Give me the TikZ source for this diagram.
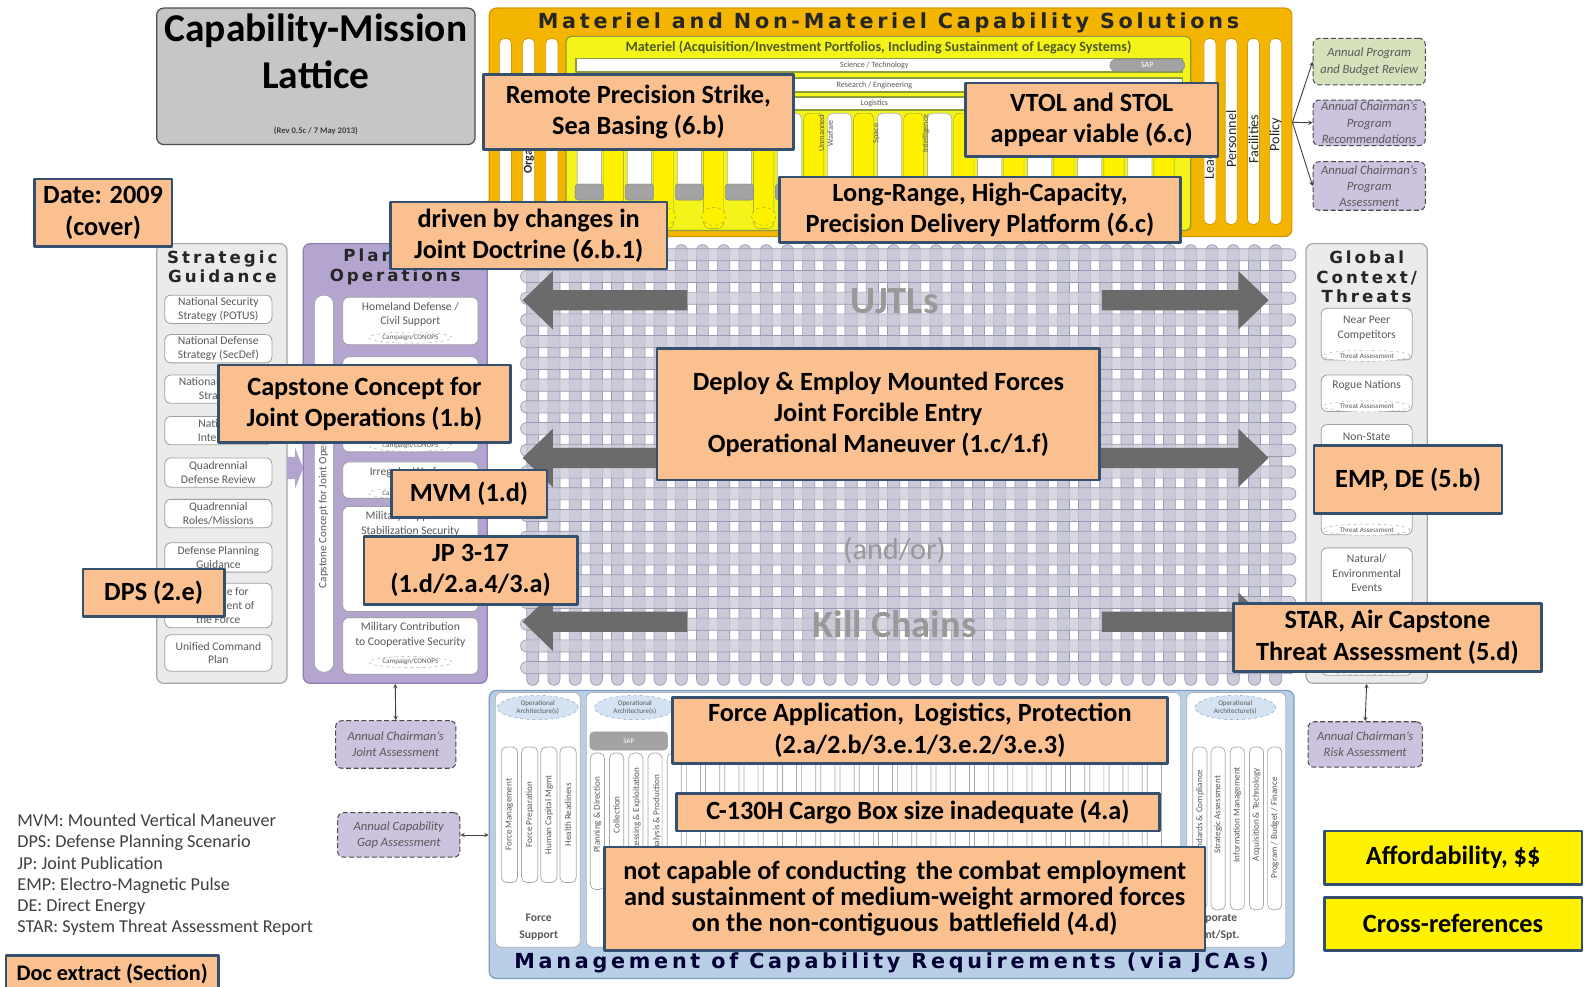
\documentclass[tikz,border=0pt]{standalone}
\usepackage{fontspec}
\setmainfont{Carlito}
\newfontfamily\hdfont[LetterSpace=18]{DejaVu Sans}
\usepackage{xcolor}
\usepackage{tikz}
\usetikzlibrary{arrows.meta,shapes.geometric}

\definecolor{callfill}{HTML}{FAC090}
\definecolor{callline}{HTML}{35506E}
\definecolor{goldfill}{HTML}{F3B500}
\definecolor{goldline}{HTML}{D39A00}
\definecolor{matyellow}{HTML}{F4F41A}
\definecolor{matolive}{HTML}{8E9B3C}
\definecolor{matdark}{HTML}{4F5A1E}
\definecolor{panelgray}{HTML}{EBEBEB}
\definecolor{panelline}{HTML}{A6A6A6}
\definecolor{planfill}{HTML}{B3A5D0}
\definecolor{planline}{HTML}{8C7BB5}
\definecolor{latfill}{HTML}{CACAD9}
\definecolor{latline}{HTML}{9A9AB2}
\definecolor{jcafill}{HTML}{B9CFE8}
\definecolor{jcaline}{HTML}{7E9CC3}
\definecolor{bigarrow}{HTML}{6B6B6B}
\definecolor{revgreen}{HTML}{D5E2BC}
\definecolor{revpurple}{HTML}{CCC3DE}
\definecolor{smalltxt}{HTML}{595959}
\definecolor{headtxt}{HTML}{262626}
\definecolor{sapgray}{HTML}{A3A3A3}

\tikzset{
  callout/.style={draw=callline, line width=2.6pt, fill=callfill, inner sep=0pt,
    align=center, font=\bfseries\fontsize{26}{31}\selectfont},
  ybox/.style={callout, fill=yellow},
  panel/.style={rounded corners=7pt, line width=1.2pt, inner sep=0pt},
  sbox/.style={draw=gray!75, fill=white, rounded corners=6pt, line width=0.8pt,
    inner sep=0pt},
  stxt/.style={align=center, inner sep=0pt, text=smalltxt,
    font=\fontsize{11.5}{14.5}\selectfont},
  oval/.style={ellipse, draw=gray!70, dashed, fill=white, inner sep=0pt,
    minimum width=82, minimum height=11, text=smalltxt, font=\fontsize{7}{8}\selectfont},
  archoval/.style={ellipse, draw=jcaline, dashed, fill=jcafill!60, inner sep=0pt,
    minimum width=80, minimum height=24, align=center, text=smalltxt,
    font=\fontsize{7}{8}\selectfont},
  review/.style={draw=gray!60!black, dashed, dash pattern=on 5pt off 2.5pt,
    rounded corners=6pt, line width=1pt, inner sep=0pt, align=center,
    text=smalltxt, font=\itshape\fontsize{12.5}{16}\selectfont},
  pill/.style={draw=gray!70, fill=white, rounded corners=5pt, line width=0.7pt},
  bar/.style={draw=latline, fill=latfill, line width=0.7pt, rounded corners=6pt},
  head/.style={font=\hdfont\bfseries\fontsize{16.5}{19.5}\selectfont,
    text=headtxt, align=center, inner sep=0pt},
  rotlab/.style={rotate=90, inner sep=0pt, text=smalltxt, font=\fontsize{9}{10}\selectfont},
  lattxt/.style={text=gray!80, font=\bfseries\fontsize{38}{40}\selectfont},
  link/.style={draw=black!75, line width=0.9pt},
}

\begin{document}
\begin{tikzpicture}[x=1pt, y=-1pt, >=stealth, line join=round]
\useasboundingbox (0,0) rectangle (1568,976);
\fill[white] (0,0) rectangle (1568,976);

%% lattice of UJTLs and kill chains
\foreach \i in {0,...,35}
  \draw[bar] ({527+21*\i-6},242) rectangle ({527+21*\i+6},678);
\foreach \j in {0,...,19}
  \draw[bar, fill opacity=0.75] (515,{252+21.5*\j-6}) rectangle (1282,{252+21.5*\j+6});
\foreach \y/\l/\r in {297/680/1090, 453/650/1088, 615/680/1090} {
  \fill[bigarrow] ({\l},{\y-10}) -- (547,{\y-10}) -- (547,{\y-29}) -- (517,\y)
    -- (547,{\y+29}) -- (547,{\y+10}) -- ({\l},{\y+10}) -- cycle;
  \fill[bigarrow] ({\r},{\y-10}) -- (1225,{\y-10}) -- (1225,{\y-29}) -- (1255,\y)
    -- (1225,{\y+29}) -- (1225,{\y+10}) -- ({\r},{\y+10}) -- cycle;
}
\node[lattxt] (ujtl) at (885,298) {UJTLs};
\node[lattxt, font=\fontsize{30}{32}\selectfont] (andor) at (885,545) {(and/or)};
\node[lattxt] (kill) at (885,617) {Kill Chains};

%% title
\node[panel, draw=gray!60!black, fill=gray!45, minimum width=315, minimum height=135] (title) at (312.5,75.5) {};
\node[anchor=base, inner sep=0pt, font=\bfseries\fontsize{39}{48}\selectfont] (title1) at (312.5,41) {Capability-Mission};
\node[anchor=base, inner sep=0pt, font=\bfseries\fontsize{39}{48}\selectfont] (title2) at (312.5,88) {Lattice};
\node[inner sep=0pt, text=black!75, font=\bfseries\fontsize{8.5}{9}\selectfont] (rev) at (312.5,130) {(Rev 0.5c / 7 May 2013)};

%% materiel and non-materiel solutions
\node[panel, draw=goldline, fill=goldfill, minimum width=794, minimum height=226] (matpanel) at (881,121) {};
\node[head, font=\hdfont\bfseries\fontsize{20.5}{21}\selectfont] (mathead) at (879,23) {Materiel and Non-Materiel Capability Solutions};
\foreach \x in {500,523,546}
  \draw[pill, draw=goldline] ({\x-6},38) rectangle ({\x+6},228);
\node[rotlab, anchor=west, text=headtxt, font=\bfseries\fontsize{12}{13}\selectfont] (org) at (523,172) {Organization};
\foreach \x in {1197,1218,1240,1262}
  \draw[pill, draw=goldline] ({\x-6},38) rectangle ({\x+6},222);
\node[rotlab, anchor=west, text=headtxt, font=\fontsize{14}{15}\selectfont] (lead) at (1197,178) {Leadership};
\node[rotlab, anchor=west, text=headtxt, font=\fontsize{14}{15}\selectfont] (pers) at (1218,166) {Personnel};
\node[rotlab, anchor=west, text=headtxt, font=\fontsize{14}{15}\selectfont] (fac) at (1240,162) {Facilities};
\node[rotlab, anchor=west, text=headtxt, font=\fontsize{14}{15}\selectfont] (pol) at (1262,150) {Policy};

\node[panel, draw=matolive, fill=matyellow, rounded corners=5pt, minimum width=618, minimum height=192] (matport) at (869,132) {};
\node[inner sep=0pt, text=matdark, font=\bfseries\fontsize{14}{15}\selectfont] (mattitle) at (869,47) {Materiel (Acquisition/Investment Portfolios, Including Sustainment of Legacy Systems)};
\draw[draw=matolive, fill=white, line width=1.5pt] (570,58) rectangle (1170,71);
\draw[draw=matolive, fill=white, line width=1.5pt] (570,77) rectangle (1170,91);
\draw[draw=matolive, fill=white, line width=1.5pt] (570,96) rectangle (1170,109);
\node[inner sep=0pt, text=smalltxt, font=\fontsize{8}{9}\selectfont] (scitech) at (865,64.5) {Science / Technology};
\node[inner sep=0pt, text=smalltxt, font=\fontsize{8}{9}\selectfont] (reseng) at (865,84) {Research / Engineering};
\node[inner sep=0pt, text=smalltxt, font=\fontsize{8}{9}\selectfont] (logi) at (865,102.5) {Logistics};
\node[draw=gray, fill=sapgray, rounded corners=6pt, minimum width=74, minimum height=12, inner sep=0pt, text=white, font=\fontsize{8}{9}\selectfont] (sapsci) at (1135,64.5) {SAP};
\foreach \k in {0,...,11} {
  \draw[draw=matolive, fill=yellow, rounded corners=6pt] ({597+49.5*\k},112) rectangle ({617+49.5*\k},226);
  \draw[pill, draw=gray!60] ({571+49.5*\k},112) rectangle ({595+49.5*\k},192);
  \draw[draw=gray, fill=sapgray, rounded corners=3pt] ({569+49.5*\k},182) rectangle ({597+49.5*\k},198);
  \draw[draw=matolive, dashed, fill=yellow] ({607+49.5*\k},214) ellipse (12 and 9);
}
\node[rotlab, font=\fontsize{8}{9}\selectfont, align=center] (unman) at (817,132) {Unmanned\\Warfare};
\node[rotlab, font=\fontsize{8}{9}\selectfont] (space) at (867,132) {Space};
\node[rotlab, font=\fontsize{8}{9}\selectfont] (intel) at (916,132) {Intelligence};

%% assessments fed by the solutions
\node[review, fill=revgreen, minimum width=111, minimum height=46] (apbr) at (1354.5,61) {Annual Program\\and Budget Review};
\node[review, fill=revpurple, minimum width=111, minimum height=45] (acpr) at (1354.5,121.5) {Annual Chairman's\\Program\\Recommendations};
\node[review, fill=revpurple, minimum width=111, minimum height=48] (acpa) at (1354.5,184) {Annual Chairman's\\Program\\Assessment};
\draw[link, ->] (matpanel.east) -- (apbr.west);
\draw[link, ->] (matpanel.east) -- (acpr.west);
\draw[link, ->] (matpanel.east) -- (acpa.west);

%% strategic guidance
\node[panel, draw=panelline, fill=panelgray, minimum width=129, minimum height=435] (strat) at (219.5,458.5) {};
\node[head] (strathead) at (220,264) {Strategic\\Guidance};
\foreach \ya/\yb/\txt [count=\i] in {
    292/320/{National Security\\Strategy (POTUS)},
    331/359/{National Defense\\Strategy (SecDef)},
    371/399/{National Military\\Strategy},
    412/440/{National\\Interests},
    453/482/{Quadrennial\\Defense Review},
    494/522/{Quadrennial\\Roles/Missions},
    537/566/{Defense Planning\\Guidance},
    577/621/{Guidance for\\Employment of\\the Force},
    628/664/{Unified Command\\Plan}} {
  \node[sbox, minimum width=106, minimum height={\yb-\ya}] (sg\i) at (216,{(\ya+\yb)/2}) {};
  \node[stxt, font=\fontsize{11.5}{13.5}\selectfont] at (sg\i) {\txt};
}
\fill[planfill] (284,452) -- (292,452) -- (292,443) -- (300,463) -- (292,483) -- (292,474) -- (284,474) -- cycle;

%% planning operations
\node[panel, draw=planline, fill=planfill, minimum width=182, minimum height=435] (plan) at (391,458.5) {};
\node[head] (planhead) at (391,264) {Planning\\Operations};
\draw[pill, fill=white, rounded corners=9pt] (311,292) rectangle (330,665);
\node[rotlab, anchor=west, font=\fontsize{11}{12}\selectfont] (ccjo) at (320,582) {Capstone Concept for Joint Operations};
\node[sbox, minimum width=134, minimum height=47] (po1) at (406,317.5) {};
\node[stxt] at (406,311) {Homeland Defense /\\Civil Support};
\node[oval] at (406,334) {Campaign/CONOPS};
\node[sbox, minimum width=134, minimum height=94] (po2) at (406,400) {};
\node[oval] at (406,441) {Campaign/CONOPS};
\node[sbox, minimum width=134, minimum height=36] (po3) at (406,475) {};
\node[stxt] at (406,467) {Irregular Warfare};
\node[oval] at (406,488) {Campaign/CONOPS};
\node[sbox, minimum width=134, minimum height=104] (po4) at (406,553) {};
\node[stxt] at (406,518) {Military Support to\\Stabilization Security};
\node[sbox, minimum width=134, minimum height=56] (po5) at (406,639) {};
\node[stxt] at (406,628) {Military Contribution\\to Cooperative Security};
\node[oval] at (406,655) {Campaign/CONOPS};

%% global context
\node[panel, draw=panelline, fill=panelgray, minimum width=120, minimum height=435] (glob) at (1352,458.5) {};
\node[head] (globhead) at (1352,274) {Global\\Context/\\Threats};
\node[sbox, minimum width=90, minimum height=51] (gc1) at (1352,330.5) {};
\node[stxt] at (1352,325) {Near Peer\\Competitors};
\node[oval, minimum width=86] at (1352,352) {Threat Assessment};
\node[sbox, minimum width=90, minimum height=36] (gc2) at (1352,389) {};
\node[stxt] at (1352,381) {Rogue Nations};
\node[oval, minimum width=86] at (1352,402) {Threat Assessment};
\node[sbox, minimum width=90, minimum height=48] (gc3) at (1352,444) {};
\node[stxt] at (1352,432) {Non-State};
\node[sbox, minimum width=90, minimum height=53] (gc4) at (1352,502.5) {};
\node[oval, minimum width=86] at (1352,524) {Threat Assessment};
\node[sbox, minimum width=90, minimum height=58] (gc5) at (1352,571) {};
\node[stxt] at (1352,567) {Natural/\\Environmental\\Events};
\node[sbox, minimum width=90, minimum height=61] (gc6) at (1352,637.5) {};
\node[oval, minimum width=86] at (1352,662) {Threat Assessment};

%% capability requirements (JCAs)
\node[panel, draw=jcaline, fill=jcafill, minimum width=796, minimum height=285] (jca) at (882,825.5) {};
\node[head, text=black!80!blue, font=\hdfont\bfseries\fontsize{20.5}{21}\selectfont] (jcahead) at (882,953) {Management of Capability Requirements (via JCAs)};
\node[sbox, draw=gray!60, minimum width=84, minimum height=252] (fsup) at (532,811) {};
\node[sbox, draw=gray!60, minimum width=588, minimum height=252] (bsa) at (874,811) {};
\node[sbox, draw=gray!60, minimum width=98, minimum height=252] (corp) at (1223,811) {};
\node[archoval] at (532,700) {Operational\\Architecture(s)};
\node[archoval] at (628,700) {Operational\\Architecture(s)};
\node[archoval] at (1222,700) {Operational\\Architecture(s)};
\node[draw=gray!80, fill=sapgray, rounded corners=4pt, minimum width=77, minimum height=18, inner sep=0pt, text=white, font=\fontsize{7}{8}\selectfont] (sapbsa) at (622,733) {SAP};
\foreach \x in {504,524,543,562}
  \draw[pill] ({\x-8},739) rectangle ({\x+8},873);
\foreach \x in {591,610,...,1160}
  \draw[pill] ({\x-7},745) rectangle ({\x+7},880);
\foreach \x in {1187,1205,1224,1243,1261}
  \draw[pill] ({\x-7},739) rectangle ({\x+7},900);
\foreach \x/\txt in {504/Force Management, 524/Force Preparation, 543/Human Capital Mgmt, 562/Health Readiness,
    591/Planning \& Direction, 610/Collection, 630/Processing \& Exploitation, 650/Analysis \& Production,
    1187/Standards \& Compliance, 1205/Strategic Assessment, 1224/Information Management,
    1243/Acquisition \& Technology}
  \node[rotlab] at (\x,806) {\txt};
\node[rotlab] (pbf) at (1261,819) {Program / Budget / Finance};
\node[inner sep=0pt, align=center, text=smalltxt, font=\bfseries\fontsize{11.5}{17}\selectfont] (fsuplab) at (533,917) {Force\\Support};
\node[inner sep=0pt, align=center, text=smalltxt, font=\bfseries\fontsize{11.5}{17}\selectfont] (corplab) at (1200,917) {Corporate\\Mgmt/Spt.};

%% other annual assessments
\node[review, fill=revpurple, minimum width=119, minimum height=47] (acja) at (391.5,736.5) {Annual Chairman's\\Joint Assessment};
\node[review, fill=revpurple, minimum width=121, minimum height=44] (acga) at (394.5,826) {Annual Capability\\Gap Assessment};
\node[review, fill=revpurple, minimum width=113, minimum height=45] (acra) at (1350.5,736.5) {Annual Chairman's\\Risk Assessment};
\draw[link, <->] (plan.south) -- (acja.north);
\draw[link, <->] (acga.east) -- (acga.east -| jca.west);
\draw[link, <->] (glob.south) -- (acra.north);

%% legend
\node[anchor=north west, inner sep=0pt, align=left, text=black!75, font=\fontsize{18}{21}\selectfont] (legend) at (17,805) {MVM: Mounted Vertical Maneuver\\DPS: Defense Planning Scenario\\JP: Joint Publication\\EMP: Electro-Magnetic Pulse\\DE: Direct Energy\\STAR: System Threat Assessment Report};

%% document extracts
\node[callout, minimum width=136, minimum height=67] (date) at (102,210.5) {Date: 2009\\(cover)};
\node[callout, minimum width=307, minimum height=74] (remote) at (631.5,111) {Remote Precision Strike,\\Sea Basing (6.b)};
\node[callout, minimum width=250, minimum height=73] (vtol) at (1080,118.5) {VTOL and STOL\\appear viable (6.c)};
\node[callout, minimum width=397, minimum height=65] (longrange) at (969.5,207.5) {Long-Range, High-Capacity,\\Precision Delivery Platform (6.c)};
\node[callout, minimum width=274, minimum height=66] (doctrine) at (523,233) {driven by changes in\\Joint Doctrine (6.b.1)};
\node[callout, minimum width=289, minimum height=77] (capstone) at (360.5,399.5) {Capstone Concept for\\Joint Operations (1.b)};
\node[callout, minimum width=438, minimum height=130] (deploy) at (869,410) {Deploy \& Employ Mounted Forces\\Joint Forcible Entry\\Operational Maneuver (1.c/1.f)};
\node[callout, minimum width=154, minimum height=47] (mvm) at (464,488.5) {MVM (1.d)};
\node[callout, minimum width=211, minimum height=67] (jp) at (465.5,564.5) {JP 3-17\\(1.d/2.a.4/3.a)};
\node[callout, minimum width=140, minimum height=47] (dps) at (152,586.5) {DPS (2.e)};
\node[callout, minimum width=186, minimum height=67] (emp) at (1393,474.5) {EMP, DE (5.b)};
\node[callout, minimum width=305, minimum height=67] (star) at (1372.5,630.5) {STAR, Air Capstone\\Threat Assessment (5.d)};
\node[callout, minimum width=490, minimum height=65] (forceapp) at (910,722.5) {Force Application,\, Logistics, Protection\\(2.a/2.b/3.e.1/3.e.2/3.e.3)};
\node[callout, minimum width=478, minimum height=37] (cargo) at (908,803.5) {C-130H Cargo Box size inadequate (4.a)};
\node[callout, minimum width=594, minimum height=102, font=\bfseries\fontsize{26}{25.5}\selectfont] (notcap) at (895,889) {not capable of conducting\, the combat employment\\and sustainment of medium-weight armored forces\\on the non-contiguous\, battlefield (4.d)};
\node[ybox, minimum width=255, minimum height=53] (afford) at (1437.5,848.5) {Affordability, \$\$};
\node[ybox, minimum width=255, minimum height=52] (xref) at (1437.5,914) {Cross-references};
\node[callout, minimum width=210, minimum height=36, font=\bfseries\fontsize{22}{24}\selectfont] (docx) at (111,963) {Doc extract (Section)};
\end{tikzpicture}
\end{document}
